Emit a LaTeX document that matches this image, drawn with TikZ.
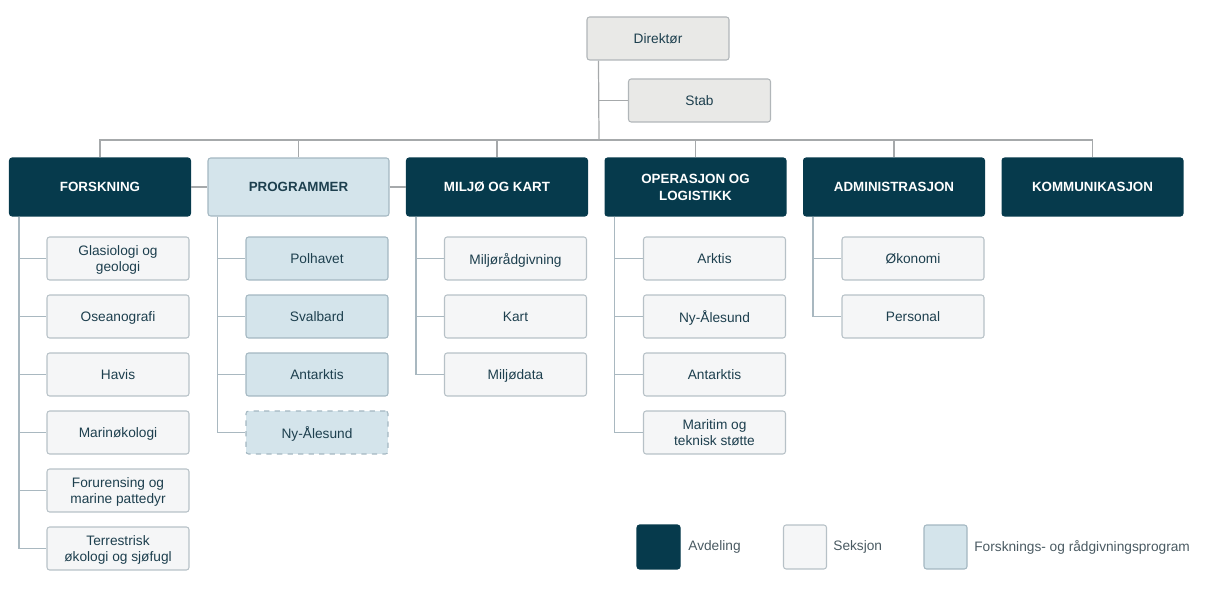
\documentclass[tikz,border=0pt]{standalone}
\usepackage{fontspec}
\setmainfont{Liberation Sans}
\usetikzlibrary{positioning}
\definecolor{avdcol}{HTML}{063A4C}
\definecolor{progfill}{HTML}{D4E4EB}
\definecolor{progline}{HTML}{A3B7C1}
\definecolor{sekfill}{HTML}{F5F6F7}
\definecolor{sekline}{HTML}{B7C1C7}
\definecolor{topfill}{HTML}{E9E9E7}
\definecolor{topline}{HTML}{B1B6B9}
\definecolor{darktext}{HTML}{1D3F4E}
\definecolor{legcol}{HTML}{4A5A62}
\definecolor{linecol}{HTML}{A6A9AB}
\definecolor{sublinecol}{HTML}{A9B8C0}

\begin{document}
\begin{tikzpicture}[x=0.02cm, y=-0.02cm,
    box/.style={draw, rounded corners=1.5pt, line width=0.6pt, align=center, inner sep=0pt,
        text depth=0pt, text=darktext, font=\fontsize{7.8}{9.6}\selectfont},
    top/.style={box, fill=topfill, draw=topline, minimum width=2.84cm, minimum height=0.86cm},
    avd/.style={box, fill=avdcol, draw=avdcol, text=white, font=\bfseries\fontsize{7.6}{9.6}\selectfont,
        minimum width=3.62cm, minimum height=1.16cm},
    prog/.style={box, fill=progfill, draw=progline, minimum width=2.84cm, minimum height=0.86cm},
    sek/.style={box, fill=sekfill, draw=sekline, minimum width=2.84cm, minimum height=0.86cm},
    swatch/.style={box, minimum width=0.86cm, minimum height=0.88cm},
    legtext/.style={anchor=west, inner sep=0pt, text=legcol, font=\fontsize{7.8}{9.6}\selectfont},
    link/.style={draw=linecol, line width=0.7pt},
    sublink/.style={draw=sublinecol, line width=0.7pt}]
    \useasboundingbox (0,0) rectangle (1213,597);
    % Top
    \node[top] (dir) at (658,38.5) {Direktør};
    \node[top] (stab) at (699.5,100.5) {Stab};
    \coordinate (bus) at (599,140);
    % Departments
    \node[avd] (forsk) at (100,187) {FORSKNING};
    \node[prog, minimum width=3.62cm, minimum height=1.16cm, font=\bfseries\fontsize{7.6}{9.6}\selectfont] (prog) at (298.5,187) {PROGRAMMER};
    \node[avd] (miljo) at (497,187) {MILJØ OG KART};
    \node[avd] (oper) at (695.5,187) {OPERASJON OG\\LOGISTIKK};
    \node[avd] (admin) at (894,187) {ADMINISTRASJON};
    \node[avd] (komm) at (1092.5,187) {KOMMUNIKASJON};
    % Lines from the top
    \draw[link] ([xshift=0.24cm]dir.south west) -- (bus);
    \draw[link] (stab.west) -- (stab.west -| bus);
    \foreach \d in {forsk,prog,miljo,oper,admin,komm}
        \draw[link] (\d.north) |- (bus);
    \draw[link] (forsk.east) -- (prog.west);
    \draw[link] (prog.east) -- (miljo.west);
    % Sections
    \foreach \txt [count=\k] in {{Glasiologi og\\geologi}, Oseanografi, Havis, Marinøkologi,
            {Forurensing og\\marine pattedyr}, {Terrestrisk\\økologi og sjøfugl}} {
        \node[sek] (f\k) at (118,{258.5+58*(\k-1)}) {\txt};
        \draw[sublink] ([xshift=0.2cm]forsk.south west) |- (f\k.west);
    }
    \foreach \txt [count=\k] in {Polhavet, Svalbard, Antarktis} {
        \node[prog] (p\k) at (317,{258.5+58*(\k-1)}) {\txt};
        \draw[sublink] ([xshift=0.2cm]prog.south west) |- (p\k.west);
    }
    \node[prog, dashed] (p4) at (317,432.5) {Ny-Ålesund};
    \draw[sublink] ([xshift=0.2cm]prog.south west) |- (p4.west);
    \foreach \txt [count=\k] in {Miljørådgivning, Kart, Miljødata} {
        \node[sek] (m\k) at (515.5,{258.5+58*(\k-1)}) {\txt};
        \draw[sublink] ([xshift=0.2cm]miljo.south west) |- (m\k.west);
    }
    \foreach \txt [count=\k] in {Arktis, Ny-Ålesund, Antarktis, {Maritim og\\teknisk støtte}} {
        \node[sek] (o\k) at (714.5,{258.5+58*(\k-1)}) {\txt};
        \draw[sublink] ([xshift=0.2cm]oper.south west) |- (o\k.west);
    }
    \foreach \txt [count=\k] in {Økonomi, Personal} {
        \node[sek] (a\k) at (913,{258.5+58*(\k-1)}) {\txt};
        \draw[sublink] ([xshift=0.2cm]admin.south west) |- (a\k.west);
    }
    % Legend
    \node[swatch, fill=avdcol, draw=avdcol] (lavd) at (658.5,547) {};
    \node[legtext] (lavdt) at (688,547) {Avdeling};
    \node[swatch, fill=sekfill, draw=sekline] (lsek) at (805,547) {};
    \node[legtext] (lsekt) at (833,547) {Seksjon};
    \node[swatch, fill=progfill, draw=progline] (lprog) at (945.5,547) {};
    \node[legtext] (lprogt) at (974,547) {Forsknings- og rådgivningsprogram};
\end{tikzpicture}
\end{document}
